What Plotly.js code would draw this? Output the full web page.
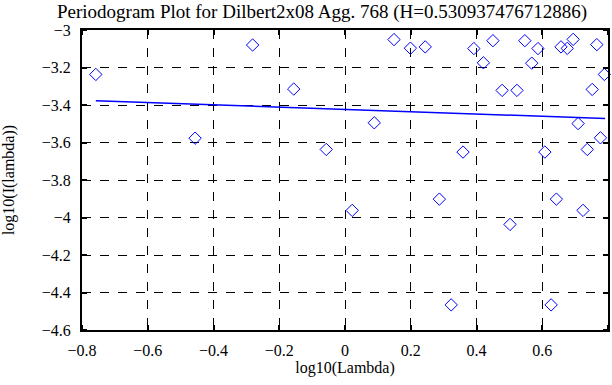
<!DOCTYPE html>
<html>
<head>
<meta charset="utf-8">
<script src="https://cdn.plot.ly/plotly-3.0.1.min.js"></script>
<style>html,body{margin:0;padding:0;background:#fff}#chart{width:612px;height:385px}</style>
</head>
<body>
<div id="chart"></div>
<script>
// Periodogram points (log10(Lambda), log10(I(lambda)))
var logLambda = [-0.758, -0.281, -0.456, -0.156, -0.057,
  0.149, 0.199, 0.244, 0.392, 0.450, 0.421, 0.547, 0.587, 0.568, 0.657, 0.676, 0.694, 0.766, 0.789,
  0.752, 0.478, 0.523, 0.089, 0.709, 0.777, 0.359, 0.608, 0.737,
  0.022, 0.287, 0.502, 0.643, 0.724, 0.323, 0.627];
var logI = [-3.237, -3.080, -3.577, -3.315, -3.637,
  -3.051, -3.097, -3.090, -3.099, -3.057, -3.175, -3.057, -3.099, -3.177, -3.090, -3.098, -3.050, -3.078, -3.237,
  -3.317, -3.322, -3.322, -3.495, -3.499, -3.575, -3.651, -3.651, -3.637,
  -3.962, -3.902, -4.037, -3.902, -3.962, -4.466, -4.466];
// Fitted regression line endpoints
var fitX = [-0.758, 0.791];
var fitY = [-3.377, -3.472];
var xTicks = [-0.8, -0.6, -0.4, -0.2, 0, 0.2, 0.4, 0.6, 0.8];
var yTicks = [-3, -3.2, -3.4, -3.6, -3.8, -4, -4.2, -4.4, -4.6];
var titleText = 'Periodogram Plot for Dilbert2x08 Agg. 768 (H=0.530937476712886)';

var font = {family: '"Liberation Serif", "Times New Roman", serif', size: 16, color: '#000'};

var traces = [
  {x: logLambda, y: logI, type: 'scatter', mode: 'markers',
   marker: {symbol: 'diamond-open', size: 9.5, color: '#0000ff', line: {width: 1, color: '#0000ff'}},
   cliponaxis: false, hoverinfo: 'none'},
  {x: fitX, y: fitY, type: 'scatter', mode: 'lines',
   line: {color: '#0000ff', width: 1.5}, hoverinfo: 'none'}
];

function fmt(v) { return v === 0 ? '0' : String(v).replace('-', '\u2212'); }

var axisCommon = {
  showline: true, linecolor: '#000', linewidth: 2, mirror: 'ticks',
  // transparent outside major ticks only push the labels away from the frame
  ticks: 'outside', ticklen: 5, tickwidth: 2, tickcolor: 'rgba(0,0,0,0)',
  showgrid: true, gridcolor: '#000', gridwidth: 1, griddash: 'dash',
  zeroline: false, tickfont: font
};

var plotL = 81.5, plotR = 608;

var layout = {
  width: 612, height: 385,
  margin: {l: plotL, r: 612 - plotR, t: 29.5, b: 55},
  paper_bgcolor: '#fff', plot_bgcolor: '#fff',
  showlegend: false,
  font: font,
  title: {text: titleText, font: {family: font.family, size: 19, color: '#000'},
          x: 57 / 612, xanchor: 'left', xref: 'container', y: 0.971, yanchor: 'middle'},
  xaxis: Object.assign({}, axisCommon, {
    range: [-0.8, 0.8], tickvals: xTicks, ticktext: xTicks.map(fmt),
    minor: {tickvals: xTicks, ticks: 'inside', ticklen: 5, tickwidth: 2, tickcolor: '#000', showgrid: false},
    title: {text: 'log10(Lambda)', font: font, standoff: 3}
  }),
  yaxis: Object.assign({}, axisCommon, {
    range: [-4.6, -3], tickvals: yTicks, ticktext: yTicks.map(fmt), ticklen: 6,
    minor: {tickvals: yTicks, ticks: 'inside', ticklen: 5, tickwidth: 2, tickcolor: '#000', showgrid: false},
    title: {text: 'log10(I(lambda))', font: font, standoff: 27}
  })
};

Plotly.newPlot('chart', traces, layout, {staticPlot: true, displayModeBar: false});
</script>
</body>
</html>
